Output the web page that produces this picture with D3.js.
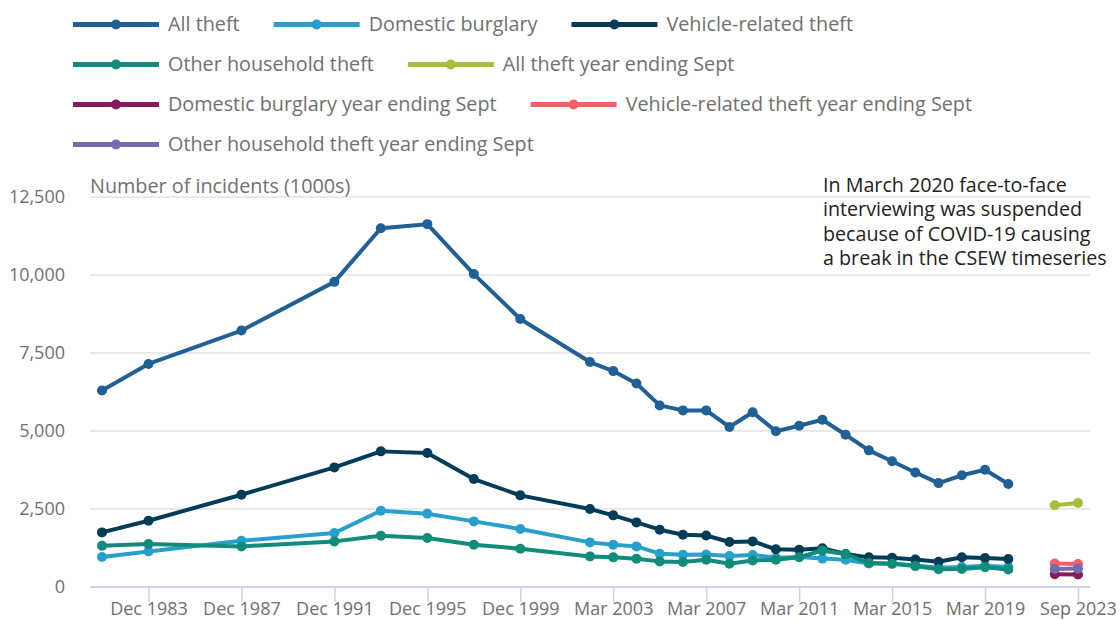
<!DOCTYPE html>
<html>
<head>
<meta charset="utf-8">
<script src="https://cdn.jsdelivr.net/npm/d3@7/dist/d3.min.js"></script>
<style>
  html, body { margin: 0; padding: 0; background: #fff; }
  svg { display: block; font-family: "Open Sans", sans-serif; }
</style>
</head>
<body>
<svg id="chart" width="1120" height="620"></svg>
<script>
// ---------- DATA ----------
const categories = [
  "Dec 1981","Dec 1982","Dec 1983","Dec 1984","Dec 1985","Dec 1986","Dec 1987","Dec 1988",
  "Dec 1989","Dec 1990","Dec 1991","Dec 1992","Dec 1993","Dec 1994","Dec 1995","Dec 1996",
  "Dec 1997","Dec 1998","Dec 1999","Dec 2000","Mar 2001","Mar 2002","Mar 2003","Mar 2004",
  "Mar 2005","Mar 2006","Mar 2007","Mar 2008","Mar 2009","Mar 2010","Mar 2011","Mar 2012",
  "Mar 2013","Mar 2014","Mar 2015","Mar 2016","Mar 2017","Mar 2018","Mar 2019","Mar 2020",
  "Mar 2021","Sep 2022","Sep 2023"
];
const tickLabels = ["Dec 1983","Dec 1987","Dec 1991","Dec 1995","Dec 1999","Mar 2003",
  "Mar 2007","Mar 2011","Mar 2015","Mar 2019","Sep 2023"];
const yTicks = [0, 2500, 5000, 7500, 10000, 12500];

const periods = [
  "Dec 1981","Dec 1983","Dec 1987","Dec 1991","Dec 1993","Dec 1995","Dec 1997","Dec 1999",
  "Mar 2002","Mar 2003","Mar 2004","Mar 2005","Mar 2006","Mar 2007","Mar 2008","Mar 2009",
  "Mar 2010","Mar 2011","Mar 2012","Mar 2013","Mar 2014","Mar 2015","Mar 2016","Mar 2017",
  "Mar 2018","Mar 2019","Mar 2020"
];
const sepPeriods = ["Sep 2022","Sep 2023"];

const allTheft = [6300,7150,8220,9780,11500,11630,10030,8590,7210,6920,6520,5820,5660,5660,
  5130,5600,4990,5170,5360,4880,4380,4030,3670,3330,3580,3760,3300];
const domesticBurglary = [961,1141,1484,1731,2446,2350,2103,1859,1430,1356,1302,1067,1035,1040,
  990,1025,940,960,910,875,755,750,690,620,640,680,640];
const vehicleTheft = [1750,2125,2958,3834,4347,4294,3461,2937,2500,2296,2071,1837,1677,1650,
  1442,1462,1210,1196,1240,1060,950,935,880,810,955,930,900];
const otherHousehold = [1324,1378,1302,1462,1644,1570,1356,1228,981,950,907,821,801,875,
  747,850,875,955,1170,1050,769,747,670,570,580,635,560];

const allTheftSep = [2620, 2690];
const domesticBurglarySep = [410, 400];
const vehicleTheftSep = [750, 740];
const otherHouseholdSep = [580, 590];

const seriesNames = ["All theft","Domestic burglary","Vehicle-related theft","Other household theft",
  "All theft year ending Sept","Domestic burglary year ending Sept",
  "Vehicle-related theft year ending Sept","Other household theft year ending Sept"];
const seriesColors = ["#206095","#27a0cc","#003c57","#118c7b","#a8bd3a","#871a5b","#f66068","#746cb1"];

const annotationLines = ["In March 2020 face-to-face","interviewing was suspended",
  "because of COVID-19 causing","a break in the CSEW timeseries"];
const yTitle = "Number of incidents (1000s)";

// ---------- BUILD ----------
const series = [
  {name: seriesNames[0], color: seriesColors[0], x: periods, y: allTheft},
  {name: seriesNames[1], color: seriesColors[1], x: periods, y: domesticBurglary},
  {name: seriesNames[2], color: seriesColors[2], x: periods, y: vehicleTheft},
  {name: seriesNames[3], color: seriesColors[3], x: periods, y: otherHousehold},
  {name: seriesNames[4], color: seriesColors[4], x: sepPeriods, y: allTheftSep},
  {name: seriesNames[5], color: seriesColors[5], x: sepPeriods, y: domesticBurglarySep},
  {name: seriesNames[6], color: seriesColors[6], x: sepPeriods, y: vehicleTheftSep},
  {name: seriesNames[7], color: seriesColors[7], x: sepPeriods, y: otherHouseholdSep}
];

const svg = d3.select("#chart");
const plotLeft = 90, plotRight = 1090, plotTop = 197, plotBottom = 587;

const x = d3.scalePoint().domain(categories).range([102, 1078]);
const y = d3.scaleLinear().domain([0, 12500]).range([plotBottom, plotTop]);

const textGrey = "#707071";

// gridlines
svg.append("g").selectAll("line").data(yTicks.filter(d => d > 0)).join("line")
  .attr("x1", plotLeft).attr("x2", plotRight)
  .attr("y1", d => y(d)).attr("y2", d => y(d))
  .attr("stroke", "#e2e2e3").attr("stroke-width", 1.5);

// y axis labels
const yAxis = d3.axisLeft(y).tickValues(yTicks).tickFormat(d3.format(",")).tickSize(0).tickPadding(0);
const yg = svg.append("g").attr("transform", "translate(65,0)").call(yAxis);
yg.select(".domain").remove();
yg.selectAll("text").attr("fill", textGrey).style("font-size", "18px")
  .style("font-family", "'Open Sans', sans-serif");

// x axis
const xAxis = d3.axisBottom(x).tickValues(tickLabels).tickSize(15).tickPadding(2).tickSizeOuter(0);
const xg = svg.append("g").attr("transform", `translate(0,${plotBottom})`).call(xAxis);
xg.select(".domain").remove();
xg.selectAll(".tick line").attr("stroke", "#cdd3ea").attr("stroke-width", 1.5);
xg.selectAll("text").attr("fill", textGrey).style("font-size", "18px")
  .style("font-family", "'Open Sans', sans-serif").attr("dy", "0.62em");
svg.append("line").attr("x1", plotLeft).attr("x2", plotRight)
  .attr("y1", plotBottom).attr("y2", plotBottom)
  .attr("stroke", "#cdd3ea").attr("stroke-width", 2);

// y title
svg.append("text").attr("x", plotLeft).attr("y", 186).attr("dy", "0.35em")
  .attr("fill", textGrey).style("font-size", "19.8px").text(yTitle);

// lines + markers
const line = d3.line().x(d => x(d[0])).y(d => y(d[1]));
series.forEach(s => {
  const pts = s.x.map((p, i) => [p, s.y[i]]);
  const g = svg.append("g");
  g.append("path").datum(pts).attr("d", line)
    .attr("fill", "none").attr("stroke", s.color).attr("stroke-width", 4)
    .attr("stroke-linejoin", "round").attr("stroke-linecap", "round");
  g.selectAll("circle").data(pts).join("circle")
    .attr("cx", d => x(d[0])).attr("cy", d => y(d[1])).attr("r", 5)
    .attr("fill", s.color);
});

// annotation
const ann = svg.append("text").attr("x", 823).attr("y", 185).attr("fill", "#222222")
  .style("font-size", "19.7px");
annotationLines.forEach((t, i) => {
  ann.append("tspan").attr("x", 823).attr("y", 185 + i * 24.4).attr("dy", "0.35em").text(t);
});

// legend (flow layout)
const legend = svg.append("g");
let lx = 73, ly = 24.5;
const lineW = 86, gapText = 9, gapItem = 34, rowH = 40, maxX = 1110;
series.forEach(s => {
  const g = legend.append("g");
  const t = g.append("text").attr("dy", "0.35em").attr("fill", textGrey)
    .style("font-size", "19.8px").text(s.name);
  const tw = t.node().getComputedTextLength();
  if (lx + lineW + gapText + tw > maxX) { lx = 73; ly += rowH; }
  g.attr("transform", `translate(${lx},${ly})`);
  g.insert("line", "text").attr("x1", 0).attr("x2", lineW).attr("y1", 0).attr("y2", 0)
    .attr("stroke", s.color).attr("stroke-width", 5);
  g.insert("circle", "text").attr("cx", lineW / 2).attr("cy", 0).attr("r", 5).attr("fill", s.color);
  t.attr("x", lineW + gapText);
  lx += lineW + gapText + tw + gapItem;
});
</script>
</body>
</html>
